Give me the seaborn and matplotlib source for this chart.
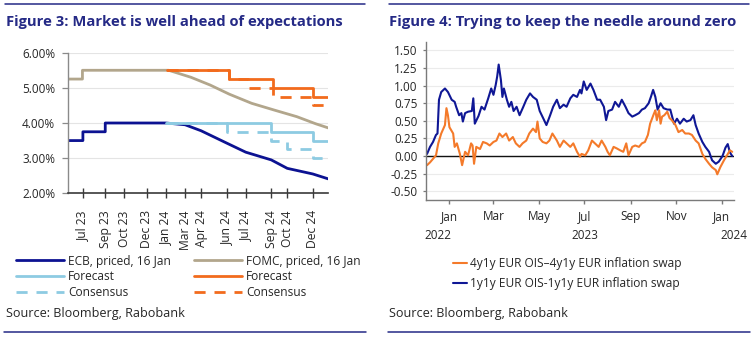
import matplotlib
matplotlib.use("Agg")
import matplotlib.pyplot as plt
import matplotlib.dates as mdates
from matplotlib.ticker import FuncFormatter, FixedLocator
from matplotlib.lines import Line2D
import pandas as pd
import seaborn as sns

# ---------------- Figure 3 data ----------------
ecb_priced_dates = ["2023-06-25", "2023-07-27", "2023-07-27", "2023-09-14", "2023-09-14",
                    "2024-01-25", "2024-03-07", "2024-04-11", "2024-06-06", "2024-07-18",
                    "2024-09-12", "2024-10-17", "2024-12-12", "2025-01-15"]
ecb_priced_vals = [3.50, 3.50, 3.75, 3.75, 4.00, 4.00, 3.95, 3.78, 3.43, 3.17, 2.95, 2.71, 2.55, 2.41]

fomc_priced_dates = ["2023-06-25", "2023-07-26", "2023-07-26", "2024-01-31", "2024-03-20",
                     "2024-05-01", "2024-06-12", "2024-07-31", "2024-09-18", "2024-11-07",
                     "2024-12-18", "2025-01-15"]
fomc_priced_vals = [5.25, 5.25, 5.50, 5.50, 5.30, 5.08, 4.82, 4.56, 4.37, 4.18, 3.98, 3.86]

ecb_fc_dates = ["2024-01-25", "2024-09-12", "2024-12-12", "2025-01-15"]
ecb_fc_vals = [4.00, 3.75, 3.50, 3.50]
ecb_cons_dates = ["2024-01-25", "2024-06-06", "2024-09-12", "2024-10-17", "2024-12-12", "2025-01-15"]
ecb_cons_vals = [4.00, 3.75, 3.50, 3.25, 3.00, 3.00]

fomc_fc_dates = ["2024-01-28", "2024-06-12", "2024-09-16", "2024-12-12", "2025-01-15"]
fomc_fc_vals = [5.50, 5.25, 5.00, 4.75, 4.75]
fomc_cons_dates = ["2024-01-28", "2024-06-12", "2024-07-24", "2024-09-16", "2024-12-12", "2025-01-15"]
fomc_cons_vals = [5.50, 5.25, 5.00, 4.75, 4.50, 4.50]

fig3_tick_dates = ["2023-07-27", "2023-09-14", "2023-10-26", "2023-12-14", "2024-01-25",
                   "2024-03-07", "2024-04-11", "2024-06-06", "2024-07-18", "2024-09-12",
                   "2024-10-17", "2024-12-12"]
fig3_yticks = [2, 3, 4, 5, 6]
fig3_labels = ["ECB, priced, 16 Jan", "Forecast", "Consensus",
               "FOMC, priced, 16 Jan", "Forecast", "Consensus"]

# ---------------- Figure 4 data ----------------
blue_dates = [
    "2022-12-02", "2022-12-06", "2022-12-10", "2022-12-14", "2022-12-16", "2022-12-18", "2022-12-21",
    "2022-12-26", "2022-12-30", "2023-01-04", "2023-01-08", "2023-01-10", "2023-01-14", "2023-01-17",
    "2023-01-19", "2023-01-22", "2023-01-26", "2023-01-31", "2023-02-02", "2023-02-04", "2023-02-09",
    "2023-02-13", "2023-02-17", "2023-02-22", "2023-02-26", "2023-03-01", "2023-03-04", "2023-03-06",
    "2023-03-08", "2023-03-11", "2023-03-13", "2023-03-15", "2023-03-19", "2023-03-22", "2023-03-25",
    "2023-03-28", "2023-04-01", "2023-04-05", "2023-04-10", "2023-04-14", "2023-04-19", "2023-04-23",
    "2023-04-28", "2023-05-02", "2023-05-07", "2023-05-11", "2023-05-16", "2023-05-20", "2023-05-25",
    "2023-05-29", "2023-06-03", "2023-06-07", "2023-06-12", "2023-06-16", "2023-06-21", "2023-06-25",
    "2023-06-27", "2023-06-30", "2023-07-04", "2023-07-09", "2023-07-13", "2023-07-18", "2023-07-22",
    "2023-07-27", "2023-07-30", "2023-08-02", "2023-08-07", "2023-08-11", "2023-08-16", "2023-08-20",
    "2023-08-25", "2023-08-29", "2023-09-03", "2023-09-07", "2023-09-12", "2023-09-16", "2023-09-20",
    "2023-09-25", "2023-09-28", "2023-10-01", "2023-10-04", "2023-10-07", "2023-10-11", "2023-10-15",
    "2023-10-20", "2023-10-24", "2023-10-29", "2023-11-02", "2023-11-06", "2023-11-11", "2023-11-15",
    "2023-11-20", "2023-11-24", "2023-11-27", "2023-12-01", "2023-12-06", "2023-12-10", "2023-12-15",
    "2023-12-19", "2023-12-24", "2023-12-28", "2024-01-02", "2024-01-06", "2024-01-09", "2024-01-12",
    "2024-01-15"]
blue_vals = [
    0.03, 0.13, 0.20, 0.30, 0.32, 0.80, 0.91, 0.96, 0.91, 0.80, 0.77, 0.70, 0.58, 0.61, 0.49, 0.61,
    0.63, 0.64, 0.82, 0.46, 0.57, 0.70, 0.66, 0.82, 0.96, 0.87, 1.01, 1.13, 1.30, 1.08, 0.84, 0.96,
    0.80, 0.70, 0.77, 0.64, 0.70, 0.58, 0.70, 0.80, 0.89, 0.84, 0.80, 0.64, 0.53, 0.44, 0.58, 0.70,
    0.80, 0.68, 0.73, 0.70, 0.82, 0.87, 0.84, 0.94, 0.89, 1.06, 0.94, 1.03, 0.94, 0.80, 0.80, 0.70,
    0.51, 0.64, 0.66, 0.77, 0.70, 0.80, 0.70, 0.61, 0.56, 0.58, 0.61, 0.66, 0.68, 0.75, 0.84, 0.94,
    0.84, 0.66, 0.75, 0.68, 0.66, 0.66, 0.46, 0.53, 0.46, 0.53, 0.49, 0.51, 0.58, 0.44, 0.32, 0.20,
    0.13, 0.06, -0.06, -0.11, -0.08, 0.00, 0.12, 0.17, 0.05, 0.00]

orange_dates = [
    "2022-12-02", "2022-12-06", "2022-12-10", "2022-12-14", "2022-12-17", "2022-12-21", "2022-12-26",
    "2022-12-28", "2022-12-30", "2023-01-01", "2023-01-06", "2023-01-08", "2023-01-11", "2023-01-15",
    "2023-01-18", "2023-01-22", "2023-01-26", "2023-01-30", "2023-02-01", "2023-02-03", "2023-02-06",
    "2023-02-11", "2023-02-15", "2023-02-20", "2023-02-24", "2023-03-01", "2023-03-05", "2023-03-09",
    "2023-03-13", "2023-03-18", "2023-03-22", "2023-03-27", "2023-03-31", "2023-04-05", "2023-04-09",
    "2023-04-14", "2023-04-18", "2023-04-23", "2023-04-27", "2023-04-29", "2023-05-02", "2023-05-06",
    "2023-05-11", "2023-05-15", "2023-05-19", "2023-05-22", "2023-05-25", "2023-05-29", "2023-06-03",
    "2023-06-07", "2023-06-12", "2023-06-16", "2023-06-21", "2023-06-25", "2023-06-27", "2023-07-02",
    "2023-07-06", "2023-07-11", "2023-07-15", "2023-07-20", "2023-07-24", "2023-07-29", "2023-08-01",
    "2023-08-04", "2023-08-09", "2023-08-13", "2023-08-18", "2023-08-22", "2023-08-26", "2023-08-29",
    "2023-09-03", "2023-09-07", "2023-09-12", "2023-09-16", "2023-09-20", "2023-09-24", "2023-09-27",
    "2023-10-02", "2023-10-04", "2023-10-06", "2023-10-09", "2023-10-11", "2023-10-13", "2023-10-16",
    "2023-10-20", "2023-10-23", "2023-10-26", "2023-10-31", "2023-11-04", "2023-11-09", "2023-11-13",
    "2023-11-18", "2023-11-22", "2023-11-27", "2023-12-01", "2023-12-06", "2023-12-10", "2023-12-15",
    "2023-12-19", "2023-12-24", "2023-12-26", "2023-12-30", "2024-01-04", "2024-01-08", "2024-01-12",
    "2024-01-15"]
orange_vals = [
    -0.13, -0.09, -0.04, 0.01, 0.18, 0.32, 0.44, 0.68, 0.58, 0.41, 0.32, 0.13, 0.18, 0.03, -0.13, 0.06,
    0.01, 0.18, 0.15, -0.11, 0.13, 0.10, 0.20, 0.18, 0.15, 0.20, 0.22, 0.32, 0.27, 0.32, 0.22, 0.27,
    0.18, 0.13, 0.18, 0.22, 0.32, 0.39, 0.34, 0.49, 0.25, 0.20, 0.18, 0.22, 0.32, 0.27, 0.22, 0.13,
    0.22, 0.18, 0.13, 0.18, 0.06, -0.01, 0.03, 0.01, 0.08, 0.22, 0.18, 0.13, 0.22, 0.13, 0.06, 0.01,
    0.13, 0.11, 0.08, 0.06, 0.18, 0.01, 0.13, 0.15, 0.13, 0.18, 0.20, 0.30, 0.46, 0.60, 0.65, 0.51,
    0.65, 0.46, 0.56, 0.58, 0.63, 0.54, 0.51, 0.44, 0.34, 0.37, 0.32, 0.32, 0.30, 0.22, 0.18, 0.03,
    -0.04, -0.11, -0.16, -0.20, -0.26, -0.16, -0.06, 0.01, 0.08, 0.06]

fig4_yticks = [-0.50, -0.25, 0.00, 0.25, 0.50, 0.75, 1.00, 1.25, 1.50]
fig4_month_ticks = ["2023-01-01", "2023-03-01", "2023-05-01", "2023-07-01", "2023-09-01",
                    "2023-11-01", "2024-01-01"]
fig4_year_labels = ["2022", "2023", "2024"]
orange_label = "4y1y EUR OIS\u20134y1y EUR inflation swap"
blue_label = "1y1y EUR OIS-1y1y EUR inflation swap"

# ---------------- styling ----------------
sns.set_theme(style="white")
plt.rcParams["font.family"] = ["Open Sans", "DejaVu Sans"]
W, H = 754, 338
NAVY_T = "#252A86"
C_ECB = "#0C1292"
C_TAN = "#B2A68C"
C_LB = "#8DCBE2"
C_OR = "#F26B1D"
C_OR2 = "#F47A2A"
C_BL2 = "#0F1795"
TXT = "#262626"

fig = plt.figure(figsize=(W / 100, H / 100), dpi=100)
fig.patch.set_facecolor("white")


def fx(px):
    return px / W


def fy(py):
    return 1 - py / H


def df(dates, vals):
    return pd.DataFrame({"date": pd.to_datetime(dates), "value": vals})


# ================= Figure 3 =================
ax1 = fig.add_axes([fx(68.3), fy(193.3), fx(328.3) - fx(68.3), fy(52.7) - fy(193.3)])
lw = 2.0
sns.lineplot(data=df(ecb_priced_dates, ecb_priced_vals), x="date", y="value", ax=ax1,
             color=C_ECB, lw=lw, estimator=None, sort=False, label=fig3_labels[0])
sns.lineplot(data=df(fomc_priced_dates, fomc_priced_vals), x="date", y="value", ax=ax1,
             color=C_TAN, lw=lw, estimator=None, sort=False, label=fig3_labels[3])
sns.lineplot(data=df(ecb_fc_dates, ecb_fc_vals), x="date", y="value", ax=ax1,
             color=C_LB, lw=lw, estimator=None, sort=False, drawstyle="steps-post",
             label=fig3_labels[1])
sns.lineplot(data=df(fomc_fc_dates, fomc_fc_vals), x="date", y="value", ax=ax1,
             color=C_OR, lw=lw, estimator=None, sort=False, drawstyle="steps-post",
             label=fig3_labels[4])
sns.lineplot(data=df(ecb_cons_dates, ecb_cons_vals), x="date", y="value", ax=ax1,
             color=C_LB, lw=lw, estimator=None, sort=False, drawstyle="steps-post",
             linestyle=(0, (4, 3.2)), label=fig3_labels[2])
sns.lineplot(data=df(fomc_cons_dates, fomc_cons_vals), x="date", y="value", ax=ax1,
             color=C_OR, lw=lw, estimator=None, sort=False, drawstyle="steps-post",
             linestyle=(0, (4, 3.2)), label=fig3_labels[5])

ax1.set_xlim(pd.Timestamp("2023-06-25"), pd.Timestamp("2025-01-15"))
ax1.set_ylim(fig3_yticks[0], fig3_yticks[-1])
ax1.set_yticks(fig3_yticks)
ax1.yaxis.set_major_formatter(FuncFormatter(lambda v, p: f"{v:.2f}%"))
ax1.xaxis.set_major_locator(FixedLocator(mdates.date2num(pd.to_datetime(fig3_tick_dates))))
ax1.xaxis.set_major_formatter(mdates.DateFormatter("%b %y"))
ax1.set_xlabel("")
ax1.set_ylabel("")
ax1.grid(axis="y", color="#E4E4E4", lw=0.8)
ax1.grid(axis="x", visible=False)
for s in ["top", "right"]:
    ax1.spines[s].set_visible(False)
ax1.spines["left"].set_color("#8A8A8A")
ax1.spines["left"].set_linewidth(1.0)
ax1.spines["bottom"].set_color("#3A3A3A")
ax1.spines["bottom"].set_linewidth(1.2)
ax1.tick_params(axis="x", direction="inout", length=7.5, width=1.0, color="#3A3A3A",
                labelsize=8.7, labelcolor=TXT, rotation=90, pad=8.5, bottom=True)
ax1.tick_params(axis="y", direction="out", length=4.5, width=0.9, color="#8A8A8A",
                labelsize=8.5, labelcolor=TXT, pad=5, left=True)
for lab in ax1.get_xticklabels():
    lab.set_va("top")
h1, l1 = ax1.get_legend_handles_labels()
ax1.get_legend().remove()
# handles order in plotting: ecb priced, fomc priced, ecb fc, fomc fc, ecb cons, fomc cons
col1 = [h1[0], h1[2], h1[4]]
col2 = [h1[1], h1[3], h1[5]]
leg_kw = dict(loc="upper left", frameon=False, borderpad=0, borderaxespad=0,
              handlelength=4.0, handletextpad=0.35, labelspacing=0.22, fontsize=8.6,
              labelcolor=TXT)
lg1 = fig.legend(col1, [fig3_labels[0], fig3_labels[1], fig3_labels[2]],
                 bbox_to_anchor=(fx(16), fy(254.5)), **leg_kw)
lg2 = fig.legend(col2, [fig3_labels[3], fig3_labels[4], fig3_labels[5]],
                 bbox_to_anchor=(fx(194), fy(254.5)), **leg_kw)

# ================= Figure 4 =================
ax2 = fig.add_axes([fx(426.3), fy(200), fx(733.7) - fx(426.3), fy(41.7) - fy(200)])
sns.lineplot(data=df(blue_dates, blue_vals), x="date", y="value", ax=ax2,
             color=C_BL2, lw=1.5, estimator=None, sort=False, label=blue_label)
sns.lineplot(data=df(orange_dates, orange_vals), x="date", y="value", ax=ax2,
             color=C_OR2, lw=1.5, estimator=None, sort=False, label=orange_label)
ax2.axhline(0, color="#111111", lw=1.0, zorder=1.5)
ax2.set_xlim(pd.Timestamp("2022-12-01"), pd.Timestamp("2024-01-17"))
ax2.set_ylim(-0.625, 1.625)
ax2.set_yticks(fig4_yticks)
ax2.yaxis.set_major_formatter(FuncFormatter(lambda v, p: f"{v:.2f}"))
ax2.xaxis.set_major_locator(FixedLocator(mdates.date2num(pd.to_datetime(fig4_month_ticks))))
ax2.xaxis.set_major_formatter(mdates.DateFormatter("%b"))
ax2.set_xlabel("")
ax2.set_ylabel("")
ax2.grid(axis="y", color="#EBEBEB", lw=0.8)
ax2.grid(axis="x", visible=False)
for s in ["top", "right"]:
    ax2.spines[s].set_visible(False)
ax2.spines["left"].set_color("#7A7A7A")
ax2.spines["bottom"].set_color("#7A7A7A")
ax2.spines["left"].set_linewidth(1.0)
ax2.spines["bottom"].set_linewidth(1.0)
ax2.tick_params(axis="x", direction="out", length=3, width=1.0, color="#7A7A7A",
                labelsize=8.5, labelcolor=TXT, pad=4.5, bottom=True)
ax2.tick_params(axis="y", direction="out", length=2.5, width=0.9, color="#7A7A7A",
                labelsize=8.5, labelcolor=TXT, pad=4, left=True)
year_pos = [mdates.date2num(pd.Timestamp("2022-12-16")), mdates.date2num(pd.Timestamp("2023-07-01"))]
tr = ax2.get_xaxis_transform()
ax2.text(year_pos[0], -0.227, fig4_year_labels[0], transform=tr, ha="center", va="center",
         fontsize=8.5, color=TXT)
ax2.text(year_pos[1], -0.227, fig4_year_labels[1], transform=tr, ha="center", va="center",
         fontsize=8.5, color=TXT)
ax2.text(1.0, -0.227, fig4_year_labels[2], transform=ax2.transAxes, ha="center", va="center",
         fontsize=8.5, color=TXT)
h2, l2 = ax2.get_legend_handles_labels()
ax2.get_legend().remove()
fig.legend([h2[1], h2[0]], [l2[1], l2[0]], loc="upper left", frameon=False, borderpad=0,
           borderaxespad=0, handlelength=1.2, handletextpad=0.2, labelspacing=0.62,
           fontsize=8.6, labelcolor=TXT, bbox_to_anchor=(fx(453), fy(256.8)))

# ================= titles, rules, sources =================
for x0, x1 in [(5, 365), (389, 749)]:
    fig.add_artist(Line2D([fx(x0), fx(x1)], [fy(4.3), fy(4.3)], color=NAVY_T, lw=1.1))
    fig.add_artist(Line2D([fx(x0 - 1), fx(x1 + 1)], [fy(331.7), fy(331.7)], color=NAVY_T, lw=1.1))

t1 = fig.text(fx(6), fy(21.7), "Figure 3: Market is well ahead of expectations", ha="left",
              va="center", fontsize=10, fontweight="bold", color=NAVY_T)
t2 = fig.text(fx(388.7), fy(21.7), "Figure 4: Trying to keep the needle around zero", ha="left",
              va="center", fontsize=10, fontweight="bold", color=NAVY_T)
s1 = fig.text(fx(6), fy(313.3), "Source: Bloomberg, Rabobank", ha="left", va="center",
              fontsize=9, color=TXT)
s2 = fig.text(fx(388.7), fy(313.3), "Source: Bloomberg, Rabobank", ha="left", va="center",
              fontsize=9, color=TXT)

fig.canvas.draw()
r = fig.canvas.get_renderer()
for t, target in [(t1, 337), (t2, 350), (s1, 179), (s2, 180)]:
    w = t.get_window_extent(r).width
    t.set_fontsize(t.get_fontsize() * target / w)

fig.savefig("out.png", dpi=100, facecolor="white")
